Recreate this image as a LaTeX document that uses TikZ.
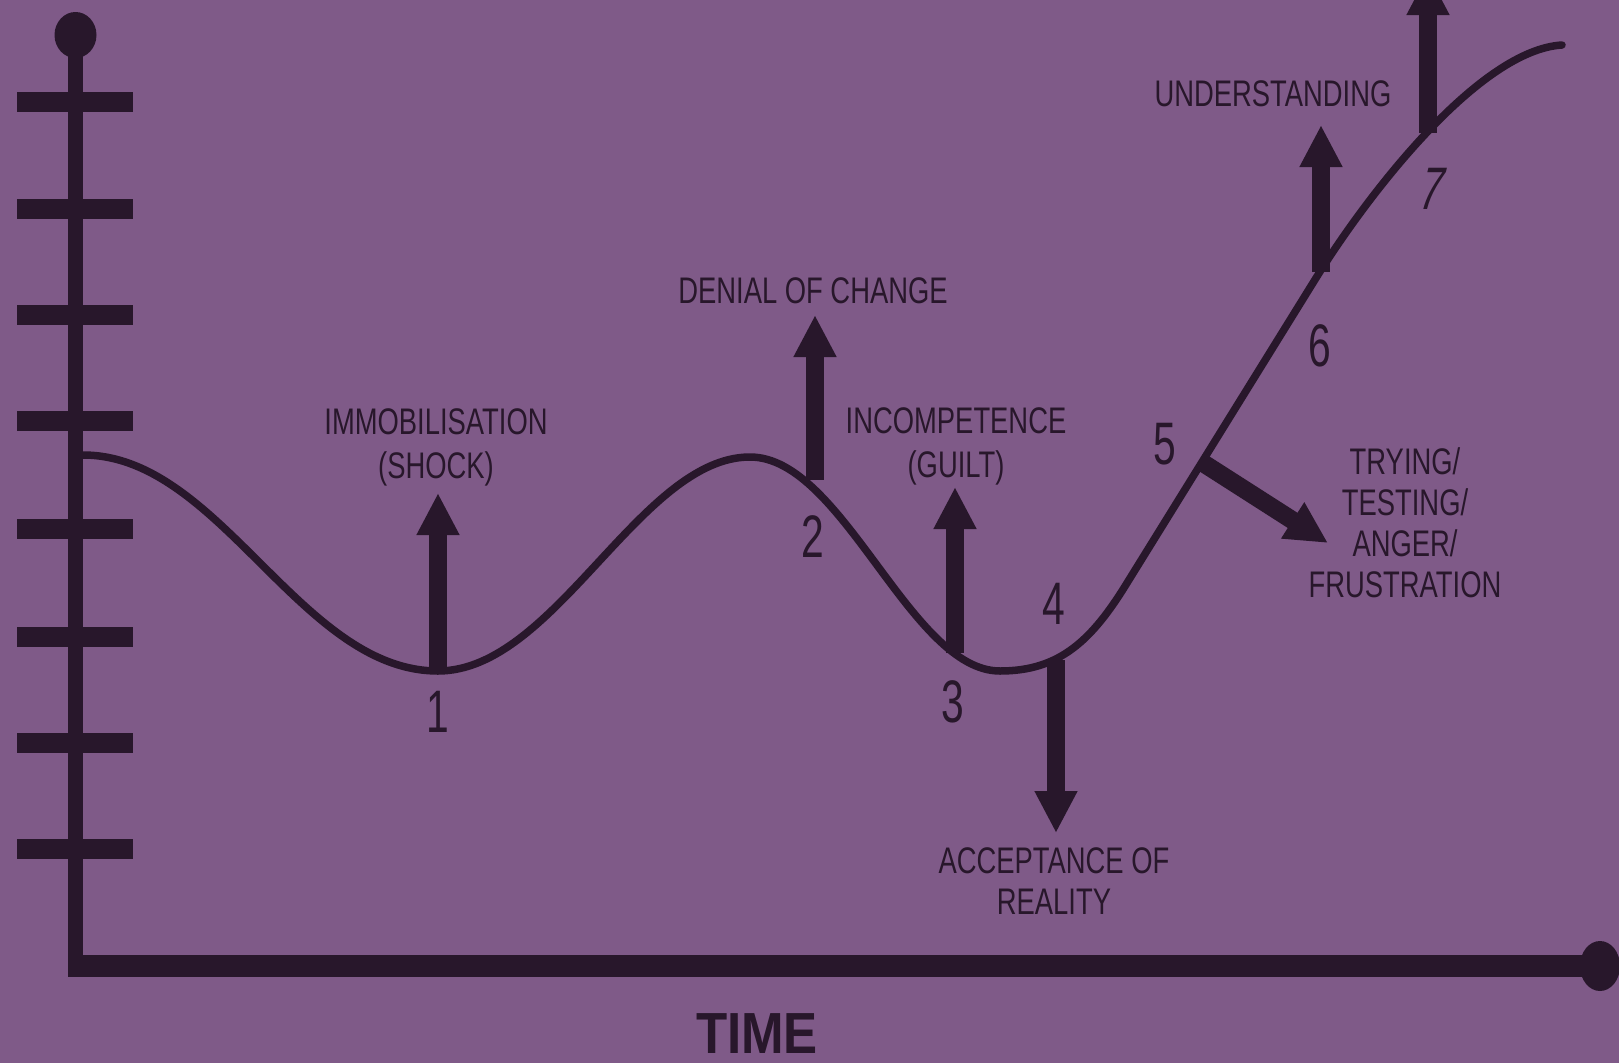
\documentclass[tikz,border=0pt]{standalone}
\usepackage{fontspec}
\setmainfont{Liberation Sans}
\newfontfamily\labelfont[FakeStretch=0.74]{Liberation Sans}
\newfontfamily\numfont[FakeStretch=0.68]{Liberation Sans}
\newfontfamily\numslfont[FakeStretch=0.68,FakeSlant=0.25]{Liberation Sans}
\newfontfamily\timefont[FakeStretch=0.88]{Liberation Sans}
\usetikzlibrary{arrows.meta}
\definecolor{bg}{RGB}{127,90,136}
\definecolor{ink}{RGB}{40,23,43}
\begin{document}
\begin{tikzpicture}[x=1pt,y=-1pt,
  lbl/.style={text=ink, inner sep=0pt, align=center, anchor=north,
    font=\labelfont\fontsize{37}{44}\selectfont},
  lbltight/.style={lbl, font=\labelfont\fontsize{37}{41}\selectfont},
  num/.style={text=ink, inner sep=0pt, font=\numfont\fontsize{60}{60}\selectfont},
  bigarrow/.style={draw=ink, line width=18pt, -{Triangle[length=42pt,width=40pt]}},
  tickbar/.style={draw=ink, line width=20pt},
  axisline/.style={draw=ink},
  wave/.style={draw=ink, line width=7.5pt, line cap=round},
  dot/.style={fill=ink},
]
\useasboundingbox (0,0) rectangle (1619,1063);
\fill[bg] (0,0) rectangle (1619,1063);
\clip (0,0) rectangle (1619,1063);

% axes
\coordinate (top) at (75.5,35);
\coordinate (corner) at (75.5,966);
\coordinate (right) at (1600,966);
\fill[dot] (top) ellipse [x radius=21pt, y radius=23pt];
\fill[dot] (right) ellipse [x radius=20pt, y radius=25pt];
\draw[axisline, line width=15pt] (top) -- ([yshift=-11pt]corner);
\draw[axisline, line width=22pt] ([xshift=-7.5pt]corner) -- (right);
\foreach \yy in {102,209,315,421,529,637,743,849}
  \draw[tickbar] (17,\yy) -- (133,\yy);

% curve
\draw[wave] (83,455) .. controls (220,455) and (300,671) .. (438,671)
  .. controls (555,671) and (640,457) .. (750,457)
  .. controls (843,457) and (910,671) .. (1000,671)
  .. controls (1060,671) and (1092,640) .. (1127,583)
  -- (1316,278)
  .. controls (1370,191) and (1480,50) .. (1562,45);

% arrow bases and tips
\coordinate (p1) at (438,671);  \coordinate (t1) at (438,493);
\coordinate (p2) at (815,480);  \coordinate (t2) at (815,315);
\coordinate (p3) at (955,653);  \coordinate (t3) at (955,487);
\coordinate (p4) at (1056,660); \coordinate (t4) at (1056,833);
\coordinate (p5) at (1203,463); \coordinate (t5) at (1328,543);
\coordinate (p6) at (1321,272); \coordinate (t6) at (1321,125);
\coordinate (p7) at (1428,133); \coordinate (t7) at (1428,-27);
\foreach \i in {1,...,7} \draw[bigarrow] (p\i) -- (t\i);

% labels
\node[lbl] (immob) at (436,408) {IMMOBILISATION\\(SHOCK)};
\node[lbl] (denial) at (813,277) {DENIAL OF CHANGE};
\node[lbl] (incomp) at (956,407) {INCOMPETENCE\\(GUILT)};
\node[lbltight] (accept) at (1054,847) {ACCEPTANCE OF\\REALITY};
\node[lbltight] (trying) at (1405,447) {TRYING/\\TESTING/\\ANGER/\\FRUSTRATION};
\node[lbl] (underst) at (1273,80) {UNDERSTANDING};

% numbers
\node[num] (n1) at (438,712) {1};
\node[num] (n2) at (813,537) {2};
\node[num] (n3) at (953,702) {3};
\node[num] (n4) at (1054,604) {4};
\node[num] (n5) at (1165,444) {5};
\node[num] (n6) at (1320,346) {6};
\node[num, font=\numslfont\fontsize{60}{60}\selectfont] (n7) at (1428,189) {7};

% axis title
\node[text=ink, inner sep=0pt, font=\timefont\bfseries\fontsize{58}{58}\selectfont] (time) at (757,1034) {TIME};
\end{tikzpicture}
\end{document}
